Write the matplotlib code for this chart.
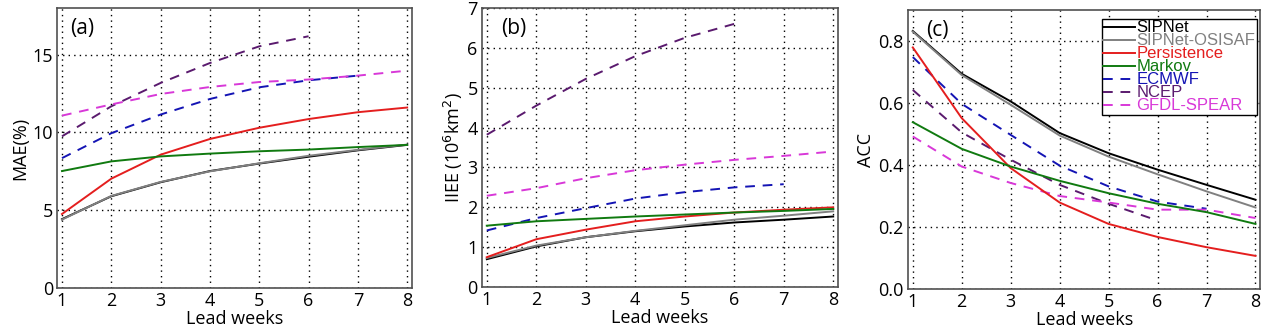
import numpy as np
import matplotlib
matplotlib.use("Agg")
from matplotlib import pyplot as plt

plt.rcParams['font.family'] = ['Open Sans', 'DejaVu Sans']

weeks = np.arange(1, 9)

# MAE (%)
mae_sipnet = [4.43, 5.90, 6.80, 7.52, 8.00, 8.44, 8.85, 9.20]
mae_osisaf = [4.40, 5.92, 6.82, 7.50, 8.02, 8.50, 8.88, 9.22]
mae_persist = [4.76, 7.03, 8.57, 9.58, 10.30, 10.86, 11.30, 11.60]
mae_markov = [7.52, 8.14, 8.46, 8.64, 8.79, 8.90, 9.06, 9.20]
mae_ecmwf = [8.35, 9.95, 11.15, 12.15, 12.90, 13.35, 13.65]
mae_ncep = [9.75, 11.68, 13.18, 14.46, 15.53, 16.18]
mae_gfdl = [11.08, 11.80, 12.47, 12.92, 13.24, 13.40, 13.65, 13.97]

# IIEE (10^6 km^2)
iiee_sipnet = [0.70, 1.02, 1.25, 1.40, 1.52, 1.62, 1.69, 1.77]
iiee_osisaf = [0.73, 1.04, 1.25, 1.41, 1.55, 1.69, 1.79, 1.90]
iiee_persist = [0.75, 1.20, 1.44, 1.65, 1.77, 1.87, 1.94, 2.00]
iiee_markov = [1.54, 1.65, 1.71, 1.77, 1.82, 1.87, 1.91, 1.96]
iiee_ecmwf = [1.42, 1.73, 1.98, 2.22, 2.38, 2.50, 2.58]
iiee_ncep = [3.82, 4.55, 5.22, 5.79, 6.25, 6.60]
iiee_gfdl = [2.29, 2.48, 2.73, 2.93, 3.07, 3.19, 3.29, 3.40]

# ACC
acc_sipnet = [0.832, 0.694, 0.605, 0.503, 0.438, 0.385, 0.336, 0.288]
acc_osisaf = [0.830, 0.690, 0.594, 0.495, 0.427, 0.370, 0.315, 0.263]
acc_persist = [0.779, 0.551, 0.390, 0.279, 0.210, 0.168, 0.135, 0.107]
acc_markov = [0.538, 0.452, 0.395, 0.349, 0.309, 0.275, 0.248, 0.210]
acc_ecmwf = [0.748, 0.597, 0.497, 0.398, 0.331, 0.282, 0.259]
acc_ncep = [0.642, 0.505, 0.417, 0.336, 0.275, 0.221]
acc_gfdl = [0.492, 0.395, 0.342, 0.300, 0.279, 0.256, 0.256, 0.229]

names = ['SIPNet', 'SIPNet-OSISAF', 'Persistence', 'Markov', 'ECMWF', 'NCEP', 'GFDL-SPEAR']
colors = ['black', '#808080', '#e41e1e', '#107a10', '#1414b4', '#5a1a6e', '#d838d8']
styles = ['-', '-', '-', '-', '--', '--', '--']

fig = plt.figure(figsize=(12.68, 3.30), dpi=100)
ax1 = fig.add_axes([0.045, 0.127, 0.280, 0.849])
ax2 = fig.add_axes([0.380, 0.130, 0.281, 0.846])
ax3 = fig.add_axes([0.716, 0.124, 0.278, 0.846])

panels = [
    (ax1, [mae_sipnet, mae_osisaf, mae_persist, mae_markov, mae_ecmwf, mae_ncep, mae_gfdl],
     'MAE(%)', (0, 18), [0, 5, 10, 15], '(a)', 0.036),
    (ax2, [iiee_sipnet, iiee_osisaf, iiee_persist, iiee_markov, iiee_ecmwf, iiee_ncep, iiee_gfdl],
     'IIEE (10$^6$km$^2$)', (0, 7), range(0, 8), '(b)', 0.053),
    (ax3, [acc_sipnet, acc_osisaf, acc_persist, acc_markov, acc_ecmwf, acc_ncep, acc_gfdl],
     'ACC', (0, 0.9), [0.0, 0.2, 0.4, 0.6, 0.8], '(c)', 0.053),
]

for ax, series, ylab, ylim, yt, tag, tx in panels:
    # dashed model lines first, solid lines on top
    order = [4, 5, 6, 0, 1, 2, 3]
    for i in order:
        y = series[i]
        ax.plot(weeks[:len(y)], y, color=colors[i], ls=styles[i], lw=1.4,
                dashes=(5, 4) if styles[i] == '--' else (None, None),
                label=names[i])
    ax.set_xlim(0.9, 8.1)
    ax.set_ylim(*ylim)
    ax.set_xticks(weeks)
    ax.set_yticks(yt)
    if tag == '(c)':
        ax.set_yticklabels(['%.1f' % v for v in yt])
    ax.tick_params(length=0, labelsize=13, pad=3)
    ax.grid(True, color='black', ls=(0, (1, 3)), lw=1.0)
    for s in ax.spines.values():
        s.set_color('#505050')
        s.set_linewidth(1.2)
    ax.set_xlabel('Lead weeks', fontsize=13, labelpad=0)
    ax.set_ylabel(ylab, fontsize=13, labelpad=2)
    ax.text(tx, 0.965, tag, transform=ax.transAxes, fontsize=15, va='top', ha='left')

handles, labels = ax3.get_legend_handles_labels()
hmap = dict(zip(labels, handles))
leg = ax3.legend([hmap[n] for n in names], names, loc='upper right',
                 bbox_to_anchor=(1.0, 0.98),
                 prop={'family': 'Liberation Sans', 'size': 12},
                 handlelength=1.9, handletextpad=0.1, labelspacing=-0.12,
                 borderpad=0.1, borderaxespad=0.2, fancybox=False,
                 framealpha=1, edgecolor='black')
leg.get_frame().set_linewidth(1.0)
for txt, c in zip(leg.get_texts(), colors):
    txt.set_color(c)

fig.savefig('out.png', dpi=100)
